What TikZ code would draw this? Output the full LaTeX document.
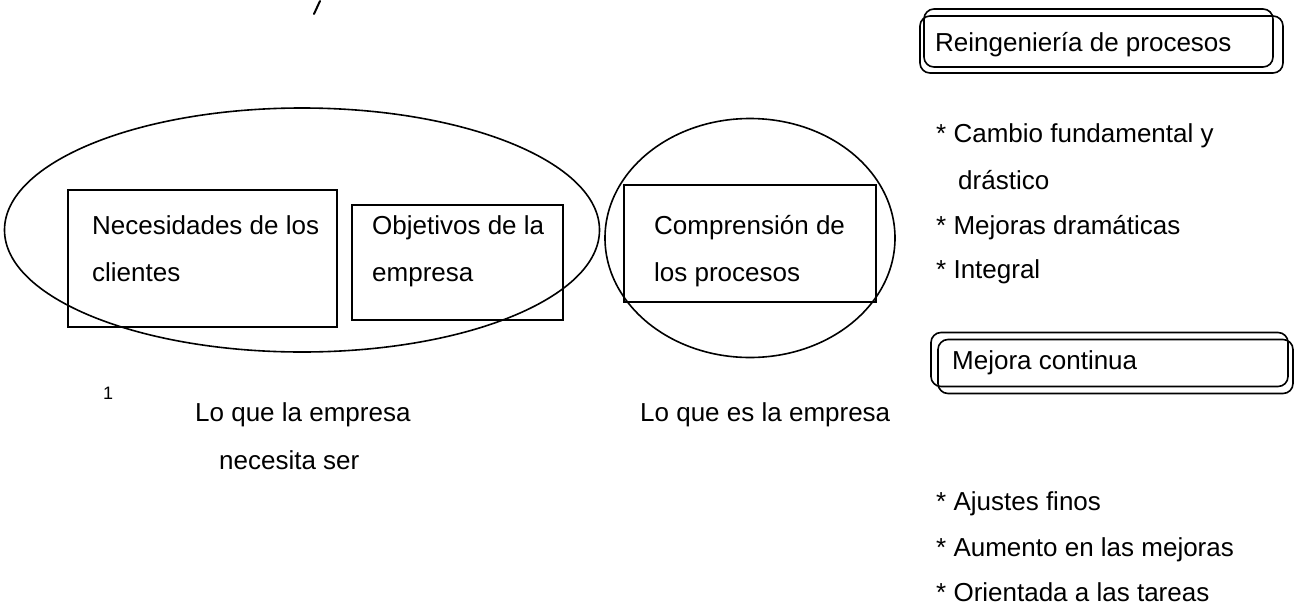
\documentclass[tikz,border=0pt]{standalone}
\usepackage{fontspec}
\setmainfont{Liberation Sans}
\usetikzlibrary{shapes.geometric}
\begin{document}
\begin{tikzpicture}[x=1pt,y=-1pt,
  lw/.style={line width=1.6pt},
  sqbox/.style={draw,lw,rectangle,inner sep=0pt},
  oval/.style={draw,lw,ellipse,inner sep=0pt},
  rbox/.style={draw,lw,rectangle,rounded corners=10pt,inner sep=0pt},
  txt/.style={anchor=base west,inner sep=0pt,font=\fontsize{26}{31}\selectfont},
  small/.style={anchor=base west,inner sep=0pt,font=\fontsize{18}{21}\selectfont}]
\useasboundingbox (0,0) rectangle (1294,611);
% stray mark
\draw[line width=2pt,line cap=round] (320,1) -- (314,14);
% left ellipse with two boxes
\node[oval,minimum width=595,minimum height=244] (ell) at (302,230) {};
\node[sqbox,minimum width=269,minimum height=137] (nec) at (202.5,258.5) {};
\node[sqbox,minimum width=211,minimum height=115] (obj) at (457.5,262.5) {};
\node[txt] (nec1) at (92,234) {Necesidades de los};
\node[txt] (nec2) at (92,281) {clientes};
\node[txt] (obj1) at (372,234) {Objetivos de la};
\node[txt] (obj2) at (372,281) {empresa};
% circle
\node[oval,minimum width=290,minimum height=239] (cir) at (750,238) {};
\node[sqbox,minimum width=252,minimum height=117] (com) at (750,243.5) {};
\node[txt] (com1) at (654,234) {Comprensión de};
\node[txt] (com2) at (654,281) {los procesos};
% captions
\node[small] (one) at (103,399) {1};
\node[txt] (cap1) at (195,421) {Lo que la empresa};
\node[txt] (cap2) at (219,469) {necesita ser};
\node[txt] (cap3) at (640,421) {Lo que es la empresa};
% right column
\node[rbox,minimum width=349,minimum height=58] (reA) at (1098.5,38) {};
\node[rbox,minimum width=363,minimum height=57] (reB) at (1101.5,44.5) {};
\node[txt] (re) at (935,51) {Reingeniería de procesos};
\node[txt] (b1) at (936,142) {* Cambio fundamental y};
\node[txt] (b1b) at (958,189) {drástico};
\node[txt] (b2) at (936,234) {* Mejoras dramáticas};
\node[txt] (b3) at (936,278) {* Integral};
\node[rbox,minimum width=357,minimum height=54] (meA) at (1109.5,359.5) {};
\node[rbox,minimum width=355,minimum height=54] (meB) at (1115.5,366.5) {};
\node[txt] (me) at (952,369) {Mejora continua};
\node[txt] (c1) at (936,510) {* Ajustes finos};
\node[txt] (c2) at (936,556) {* Aumento en las mejoras};
\node[txt] (c3) at (936,601) {* Orientada a las tareas};
\end{tikzpicture}
\end{document}
